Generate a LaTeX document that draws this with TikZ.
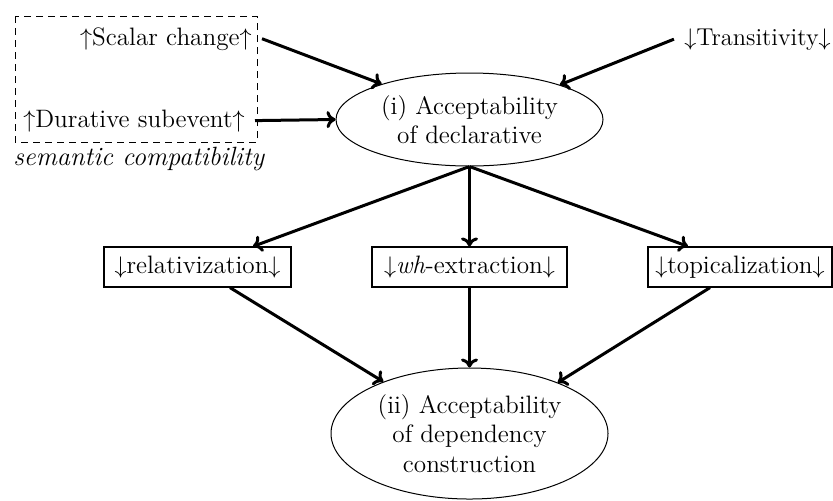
\documentclass[tikz,border=0pt]{standalone}
\usetikzlibrary{arrows.meta,shapes.geometric}
\begin{document}
\begin{tikzpicture}[x=0.5pt,y=-0.5pt,
  every node/.style={font=\fontsize{12.6}{14.8}\selectfont},
  conn/.style={line width=1.5pt,-{To[length=4.5pt,width=8.5pt]}},
  oval/.style={ellipse,draw,line width=0.5pt,inner sep=0pt,align=center},
  lbox/.style={draw,line width=0.6pt,inner sep=0pt,minimum height=20pt},
  factor/.style={inner xsep=5pt,inner ysep=0pt}]
\useasboundingbox (0,0) rectangle (833,500);
% semantic compatibility group
\draw[line width=0.5pt,dash pattern=on 3.5pt off 2.5pt] (15,16) rectangle (257,142);
\node[factor,anchor=base east] (scalar) at (262,45) {$\uparrow$Scalar change$\uparrow$};
\node[factor,anchor=base east] (dur) at (255,127) {$\uparrow$Durative subevent$\uparrow$};
\node[inner sep=0pt,anchor=base west,font=\fontsize{13.2}{15}\selectfont] (sem) at (13,165) {\textit{semantic compatibility}};
\node[factor,inner xsep=0pt,anchor=base east,font=\fontsize{12.2}{14.8}\selectfont] (trans) at (831,45) {$\downarrow$Transitivity$\downarrow$};
% ellipses
\node[oval,minimum width=133.5pt,minimum height=46.5pt] (e1) at (469.5,119.5) {(i) Acceptability\\of declarative};
\node[oval,minimum width=138.5pt,minimum height=65.5pt] (e2) at (469.5,433.5) {(ii) Acceptability\\of dependency\\construction};
% boxes
\node[lbox,minimum width=93.5pt] (rel) at (197.5,267) {$\downarrow$relativization$\downarrow$};
\node[lbox,minimum width=97.5pt] (wh) at (469.5,267) {$\downarrow$\textit{wh}-extraction$\downarrow$};
\node[lbox,minimum width=92pt] (top) at (740,267) {$\downarrow$topicalization$\downarrow$};
% connectors
\draw[conn] (scalar.east) -- (e1.158);
\draw[conn] (dur.east) -- (e1.west);
\draw[conn] ([xshift=-5pt]trans.west) -- (e1.21);
\draw[conn] (e1.south) -- ([xshift=27.75pt]rel.north);
\draw[conn] (e1.south) -- (wh.north);
\draw[conn] (e1.south) -- ([xshift=-26pt]top.north);
\draw[conn] ([xshift=16.25pt]rel.south) -- (e2.149.5);
\draw[conn] (wh.south) -- (e2.north);
\draw[conn] ([xshift=-15pt]top.south) -- (e2.30.2);
\end{tikzpicture}
\end{document}
